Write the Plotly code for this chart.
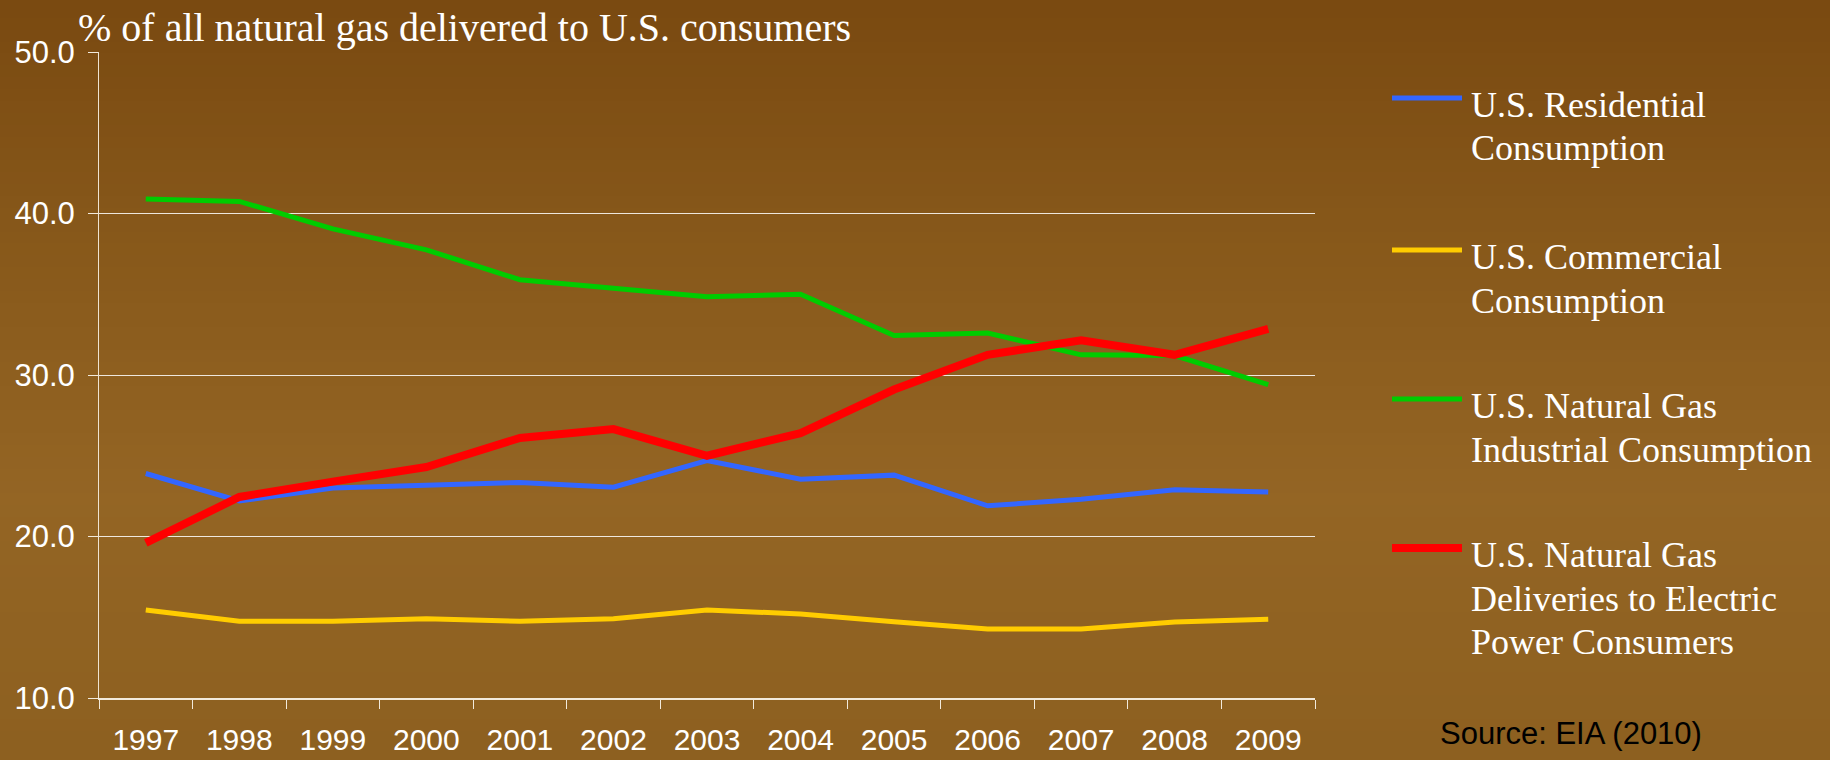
import base64
import struct
import zlib

import plotly.graph_objects as go

# ---------------- data ----------------
years = ["1997", "1998", "1999", "2000", "2001", "2002", "2003",
         "2004", "2005", "2006", "2007", "2008", "2009"]
residential = [23.9, 22.2, 23.0, 23.2, 23.35, 23.05, 24.7, 23.55, 23.8, 21.9, 22.3, 22.9, 22.75]
commercial = [15.45, 14.75, 14.75, 14.9, 14.75, 14.9, 15.45, 15.2, 14.72, 14.27, 14.27, 14.7, 14.88]
industrial = [40.9, 40.75, 39.05, 37.75, 35.9, 35.35, 34.85, 35.0, 32.45, 32.6, 31.25, 31.2, 29.4]
electric = [19.6, 22.45, 23.4, 24.3, 26.1, 26.65, 25.0, 26.4, 29.1, 31.25, 32.15, 31.25, 32.85]

series_names = ["U.S. Residential Consumption",
                "U.S. Commercial Consumption",
                "U.S. Natural Gas Industrial Consumption",
                "U.S. Natural Gas Deliveries to Electric Power Consumers"]
legend_lines = [["U.S. Residential", "Consumption"],
                ["U.S. Commercial", "Consumption"],
                ["U.S. Natural Gas", "Industrial Consumption"],
                ["U.S. Natural Gas", "Deliveries to Electric", "Power Consumers"]]
series_colors = ["#3366FF", "#FFCC00", "#00CC00", "#FF0000"]
series_widths = [5, 5, 5, 8]
y_tick_vals = [10, 20, 30, 40, 50]
chart_title = "% of all natural gas delivered to U.S. consumers"
source_text = "Source: EIA (2010)"

# ---------------- layout geometry ----------------
W, H = 1830, 760
L, R, T, B = 99, 515, 52, 62
PW, PH = W - L - R, H - T - B


def px_x(px):
    return (px - L) / PW


def px_y(py):
    return 1 - (py - T) / PH


def gradient_png(stops, h=64, w=1):
    rows = bytearray()
    for i in range(h):
        t = i / (h - 1)
        for k in range(len(stops) - 1):
            p0, c0 = stops[k]
            p1, c1 = stops[k + 1]
            if p0 <= t <= p1:
                f = (t - p0) / (p1 - p0) if p1 > p0 else 0
                c = tuple(int(round(c0[j] + (c1[j] - c0[j]) * f)) for j in range(3))
                break
        rows += b"\x00" + bytes(c) * w

    def chunk(tag, data):
        return (struct.pack(">I", len(data)) + tag + data
                + struct.pack(">I", zlib.crc32(tag + data) & 0xFFFFFFFF))

    png = (b"\x89PNG\r\n\x1a\n"
           + chunk(b"IHDR", struct.pack(">IIBBBBB", w, h, 8, 2, 0, 0, 0))
           + chunk(b"IDAT", zlib.compress(bytes(rows)))
           + chunk(b"IEND", b""))
    return "data:image/png;base64," + base64.b64encode(png).decode()


bg = gradient_png([(0.0, (122, 74, 17)), (0.3, (135, 88, 26)),
                   (0.65, (148, 101, 36)), (1.0, (141, 96, 32))])

SERIF = "Liberation Serif, Times New Roman, serif"
SANS = "Liberation Sans, Arial, sans-serif"

fig = go.Figure()
for name, vals, col, wd in zip(series_names, [residential, commercial, industrial, electric],
                               series_colors, series_widths):
    fig.add_trace(go.Scatter(x=years, y=vals, mode="lines", name=name,
                             line=dict(color=col, width=wd), showlegend=False))

shapes = []
annotations = []
# manual legend (long line samples like the reference)
sample_y = [98, 250, 399, 548]
for lines, col, wd, sy in zip(legend_lines, series_colors, series_widths, sample_y):
    shapes.append(dict(type="line", xref="paper", yref="paper",
                       x0=px_x(1392), x1=px_x(1462), y0=px_y(sy), y1=px_y(sy),
                       line=dict(color=col, width=wd)))
    for k, txt in enumerate(lines):
        annotations.append(dict(text=txt, xref="paper", yref="paper",
                                x=px_x(1469), y=px_y(sy + 7 + 43.5 * k),
                                xanchor="left", yanchor="middle", showarrow=False,
                                font=dict(family=SERIF, size=36, color="white")))

annotations.append(dict(text=chart_title, xref="paper", yref="paper",
                        x=px_x(76), y=px_y(27), xanchor="left", yanchor="middle",
                        showarrow=False, font=dict(family=SERIF, size=40, color="white")))
annotations.append(dict(text=source_text, xref="paper", yref="paper",
                        x=px_x(1438), y=px_y(733), xanchor="left", yanchor="middle",
                        showarrow=False, font=dict(family=SANS, size=31, color="black")))

fig.update_layout(
    width=W, height=H,
    margin=dict(l=L, r=R, t=T, b=B, pad=0, autoexpand=False),
    paper_bgcolor="#8C5E1F",
    plot_bgcolor="rgba(0,0,0,0)",
    showlegend=False,
    images=[dict(source=bg, xref="paper", yref="paper",
                 x=-L / PW, y=1 + T / PH, sizex=W / PW, sizey=H / PH,
                 sizing="stretch", layer="below", xanchor="left", yanchor="top")],
    shapes=shapes,
    annotations=annotations,
    xaxis=dict(type="category", range=[-0.5, 12.5], tickson="boundaries",
               automargin=False,
               ticks="outside", ticklen=9, tickcolor="#F2EADC", tickwidth=1,
               showline=True, linecolor="#F2EADC", linewidth=2,
               showgrid=False, zeroline=False,
               tickfont=dict(family=SANS, size=30, color="white"),
               ticklabelstandoff=14),
    yaxis=dict(range=[10, 50], tickvals=y_tick_vals, tickformat=".1f",
               automargin=False,
               ticks="outside", ticklen=10, tickcolor="#F2EADC", tickwidth=1,
               showline=True, linecolor="#EFE4D2", linewidth=1,
               showgrid=True, gridcolor="rgba(255,255,255,0.85)", gridwidth=1,
               zeroline=False,
               tickfont=dict(family=SANS, size=31, color="white"),
               ticklabelstandoff=7),
)

fig.write_html("out.html", config={"displayModeBar": False},
               post_script="document.body.style.margin='0';document.body.style.overflow='hidden';")
